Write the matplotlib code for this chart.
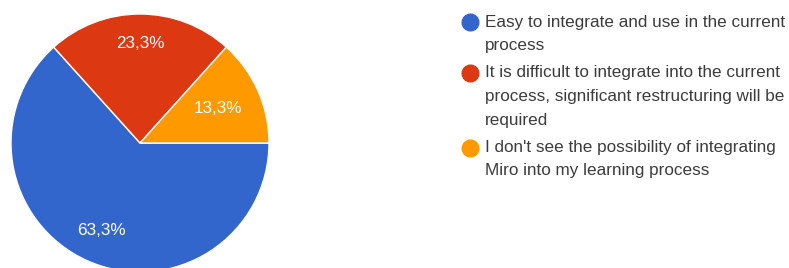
import matplotlib.pyplot as plt

labels = [
    "Easy to integrate and use in the current\nprocess",
    "It is difficult to integrate into the current\nprocess, significant restructuring will be\nrequired",
    "I don't see the possibility of integrating\nMiro into my learning process",
]
counts = [19, 7, 4]
colors = ["#3366CC", "#DC3912", "#FF9900"]

plt.rcParams['font.family'] = ['Liberation Sans', 'DejaVu Sans']

W, H = 789, 268
fig = plt.figure(figsize=(W / 100, H / 100), dpi=100)

# pie: centre (140,143) px, radius 129 px
cx, cy, r = 140, 143, 129
ax = fig.add_axes([(cx - r) / W, (H - cy - r) / H, 2 * r / W, 2 * r / H])
wedges, texts, autotexts = ax.pie(
    counts, colors=colors, startangle=0, counterclock=False,
    autopct=lambda p: f"{p:.1f}%".replace('.', ','), pctdistance=0.72,
    wedgeprops=dict(edgecolor='white', linewidth=1),
    textprops=dict(color='white', fontsize=12.3))
ax.set_xlim(-1, 1)
ax.set_ylim(-1, 1)
ax.set_aspect('equal')
ax.axis('off')

# nudge label radii to match the reference
for t, d in zip(autotexts, [0.74, 0.775, 0.66]):
    x, y = t.get_position()
    s = d / 0.72
    t.set_position((x * s, y * s))

# legend drawn by hand so the dot sits on the first line
lax = fig.add_axes([0, 0, 1, 1])
lax.set_xlim(0, W)
lax.set_ylim(H, 0)
lax.axis('off')
y = 22
for lab, c in zip(labels, colors):
    lax.plot(470, y, 'o', color=c, markersize=12)
    for line in lab.split('\n'):
        lax.text(485, y, line, va='center', ha='left', fontsize=12.3, color='#3c3c3c')
        y += 23.5
    y += 4

fig.savefig("out.png", dpi=100)
